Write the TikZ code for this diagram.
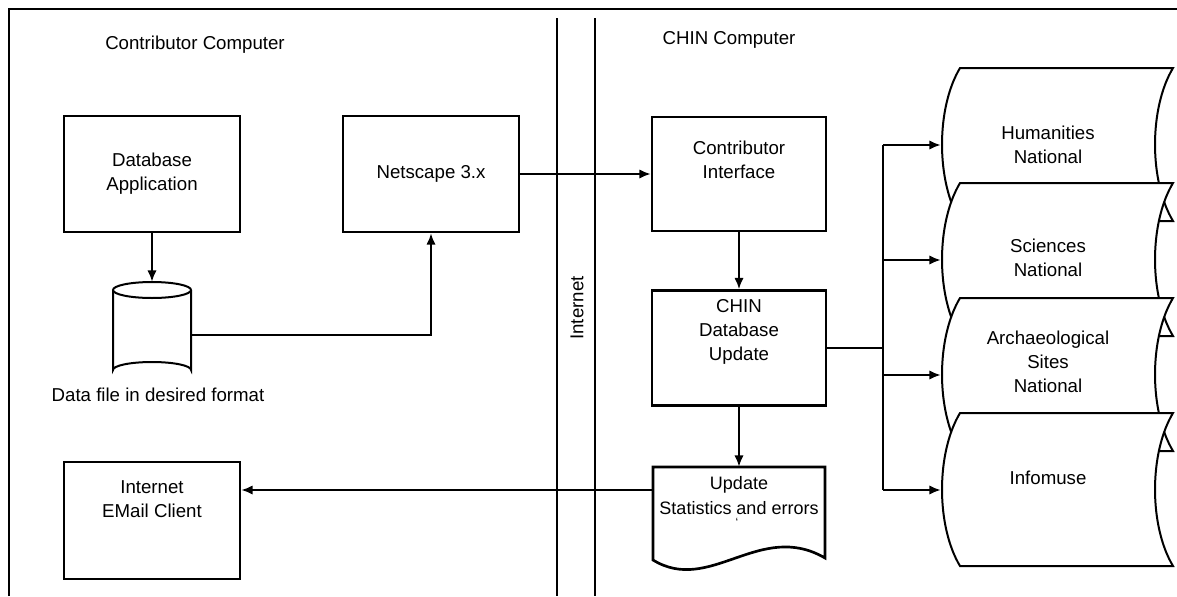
\documentclass[tikz,border=0pt]{standalone}
\usepackage{fontspec}
\setmainfont{Liberation Sans}
\usetikzlibrary{arrows.meta}
\newcommand\storeddoc[1]{%
  \draw[docline] (960,#1) -- (1173,#1)
    .. controls (1149,{#1+40}) and (1149,{#1+113}) .. (1173,{#1+153})
    -- (960,{#1+153})
    .. controls (936,{#1+113}) and (936,{#1+40}) .. (960,#1) -- cycle;}
\begin{document}
\begin{tikzpicture}[x=0.75pt,y=-0.75pt,
  txt/.style={font=\fontsize{14}{18}\selectfont, align=center, inner sep=0pt},
  box/.style={draw, line width=2pt, minimum width=132pt, minimum height=87pt, inner sep=0pt, txt},
  ghost/.style={draw=none, inner sep=0pt},
  conn/.style={line width=1.4pt},
  arr/.style={conn, -{Latex[length=8.5pt,width=7pt]}},
  docline/.style={draw, line width=1.5pt, fill=white},
  frameline/.style={line width=2pt}]
\useasboundingbox (0,0) rectangle (1177,596);
% frame and internet band
\draw[frameline] (9,596) -- (9,9) -- (1177,9);
\draw[frameline] (557,18) -- (557,596);
\draw[frameline] (595,18) -- (595,596);
\node[txt, rotate=90] (inet) at (577,308) {Internet};
\node[txt] (cc) at (195,45) {Contributor Computer};
\node[txt] (chin) at (729,40) {CHIN Computer};
% contributor side
\node[box] (dba) at (152,174) {Database\\Application};
\node[box] (ns) at (431,174) {Netscape 3.x};
\node[ghost, minimum width=58.5pt, minimum height=72pt] (db) at (152,330) {};
\draw[line width=1.5pt, fill=white] (113,290) -- (113,370) arc[start angle=180, end angle=360, x radius=39, y radius=8] -- (191,290);
\draw[line width=1.5pt] (152,290) ellipse[x radius=39, y radius=8];
\node[txt] (dbl) at (158,395) {Data file in desired format};
\node[box, minimum height=87.75pt] (email) at (152,520.5) {};
\node[txt] (emailt) at (152,499) {Internet\\EMail Client};
% CHIN side
\node[box, minimum width=130.5pt, minimum height=85.5pt] (ci) at (739,174) {};
\node[txt] (cit) at (739,160) {Contributor\\Interface};
\node[box, minimum width=130.5pt, minimum height=86.25pt] (cdu) at (739,348) {};
\node[txt] (cdut) at (739,332) {CHIN\\Database\\Update};
\node[ghost, minimum width=129pt, minimum height=69pt] (upd) at (739,513) {};
\draw[line width=2pt, fill=white] (653,560) -- (653,467) -- (825,467) -- (825,558)
  .. controls (760,520) and (710,595) .. (653,560) -- cycle;
\node[txt, font=\fontsize{13.5}{18.5}\selectfont] (updt) at (739,495.5) {Update\\Statistics and errors};
\node[txt, font=\fontsize{9}{9}\selectfont] (updd) at (737,522) {`};
% stored data documents
\node[ghost, minimum width=174pt, minimum height=114.75pt] (hum) at (1057,145) {};
\storeddoc{68}
\node[txt] (humt) at (1048,144.5) {Humanities\\National};
\node[ghost, minimum width=174pt, minimum height=114.75pt] (sci) at (1057,260) {};
\storeddoc{183}
\node[txt] (scit) at (1048,257.5) {Sciences\\National};
\node[ghost, minimum width=174pt, minimum height=114.75pt] (arc) at (1057,375) {};
\storeddoc{298}
\node[txt] (arct) at (1048,362) {Archaeological\\Sites\\National};
\node[ghost, minimum width=174pt, minimum height=114.75pt] (info) at (1057,490) {};
\storeddoc{413}
\node[txt] (infot) at (1048,478) {Infomuse};
% connectors
\draw[arr] (dba.south) -- (db.north);
\draw[arr] ([yshift=-3.75pt]db.east) -| (ns.south);
\draw[arr] (ns.east) -- (ci.west);
\draw[arr] (ci.south) -- (cdu.north);
\draw[arr] (cdu.south) -- (upd.north);
\draw[arr] ([yshift=17.25pt]upd.west) -- ([yshift=17.25pt]upd.west -| email.east);
\coordinate (bus) at (883,348);
\draw[conn] (cdu.east) -- (cdu.east -| bus);
\draw[conn] (bus |- hum.west) -- (bus |- info.west);
\draw[arr] (bus |- hum.west) -- (hum.west);
\draw[arr] (bus |- sci.west) -- (sci.west);
\draw[arr] (bus |- arc.west) -- (arc.west);
\draw[arr] (bus |- info.west) -- (info.west);
\end{tikzpicture}
\end{document}
